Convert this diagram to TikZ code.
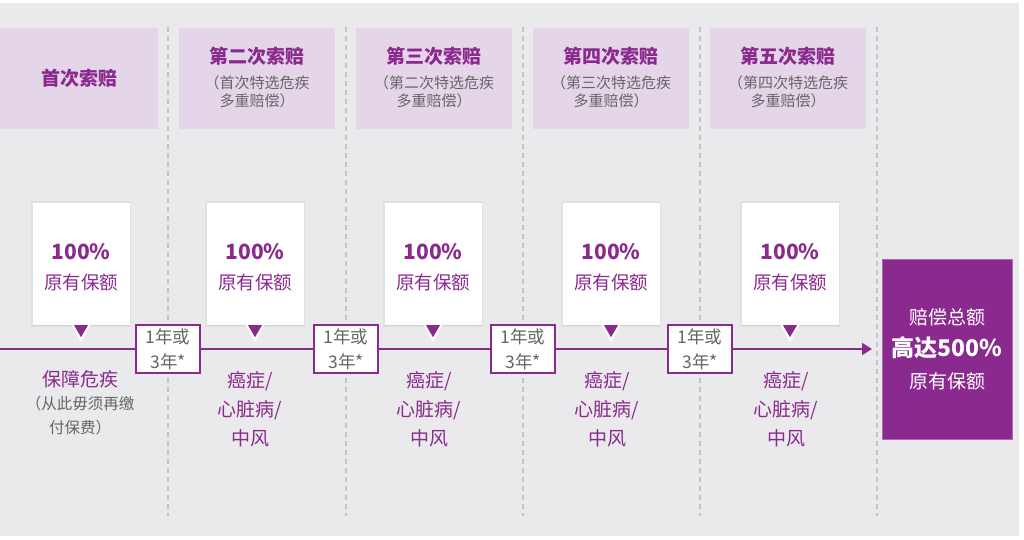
\documentclass[tikz,border=0pt]{standalone}
\usepackage{fontspec}
\setmainfont{Noto Sans CJK SC}
\usepackage{tikz}
\usetikzlibrary{positioning, arrows.meta, shadows, calc}

\definecolor{plum}{HTML}{8B2A8E}
\definecolor{lilac}{HTML}{E5D5E9}
\definecolor{bggray}{HTML}{EAEAED}
\definecolor{txtgray}{HTML}{666666}
\definecolor{dashgray}{HTML}{C4C4C8}

\newcommand{\subfont}{\color{txtgray}\fontsize{15}{18}\selectfont\mdseries}
\newcommand{\notefont}{\color{txtgray}\fontsize{15.5}{24}\selectfont}
\newcommand{\pctfont}{\bfseries\fontsize{21}{30}\selectfont}
\newcommand{\bodyfont}{\mdseries\fontsize{18.5}{30}\selectfont}

\begin{document}
\begin{tikzpicture}[x=1pt, y=-1pt,
                header/.style={fill=lilac, minimum width=156pt, minimum height=101pt, inner sep=0pt, align=center, text=plum, font=\fontsize{19}{26}\selectfont\bfseries},
                callout/.style={fill=white, minimum width=97pt, minimum height=122pt, inner sep=0pt,
                    general shadow={fill=black, opacity=0.035, shadow scale=1.04},
                    drop shadow={shadow xshift=0.5pt, shadow yshift=-1pt, opacity=0.12, fill=black!60}},
                calltext/.style={align=center, text=plum, inner sep=0pt, font=\fontsize{18.5}{30}\selectfont},
                pointer/.style={fill=plum},
                gapbox/.style={draw=plum, line width=1.6pt, fill=white, minimum width=64pt, minimum height=48pt, inner sep=0pt, align=center, text=txtgray, font=\fontsize{17.5}{25}\selectfont},
                below/.style={anchor=north, align=center, text=plum, font=\fontsize{19}{29}\selectfont},
                divider/.style={dashgray, line width=1.2pt, dash pattern=on 5pt off 4pt},
                timeline/.style={plum, line width=1.8pt, -{Triangle[length=10pt, width=12pt]}},
                total/.style={fill=plum, draw=plum!70!white, minimum width=130pt, minimum height=180pt, inner sep=0pt, align=center, text=white, font=\fontsize{19}{32}\selectfont}
            ]

            % Hintergrund
            \useasboundingbox (0,0) rectangle (1024,539);
            \fill[white] (0,0) rectangle (1024,539);
            \fill[bggray] (0,3) rectangle (1019,536);

            % Trennlinien
            \draw[divider] (168,27) -- (168,516);
            \draw[divider] (346,27) -- (346,516);
            \draw[divider] (523,27) -- (523,516);
            \draw[divider] (700,27) -- (700,516);
            \draw[divider] (877,27) -- (877,516);

            % Kopfzeile
            \node[header, minimum width=158pt] (H1) at (79,78.5) {首次索赔};
            \node[header, text depth=4pt] (H2) at (257,78.5) {第二次索赔\\[-1pt]\subfont （首次特选危疾\\[-8pt]\subfont 多重赔偿）};
            \node[header, text depth=4pt] (H3) at (434,78.5) {第三次索赔\\[-1pt]\subfont （第二次特选危疾\\[-8pt]\subfont 多重赔偿）};
            \node[header, text depth=4pt] (H4) at (611,78.5) {第四次索赔\\[-1pt]\subfont （第三次特选危疾\\[-8pt]\subfont 多重赔偿）};
            \node[header, text depth=4pt] (H5) at (788,78.5) {第五次索赔\\[-1pt]\subfont （第四次特选危疾\\[-8pt]\subfont 多重赔偿）};

            % Zeitachse
            \coordinate (T0) at (0,349);
            \coordinate (T1) at (872,349);
            \draw[timeline] (T0) -- (T1);

            % Auszahlungen
            \node[callout] (C1) at (81,264) {};
            \node[callout] (C2) at (255,264) {};
            \node[callout] (C3) at (433,264) {};
            \node[callout] (C4) at (611,264) {};
            \node[callout] (C5) at (790,264) {};

            \node[calltext] (P1) at ([yshift=-3pt]C1.center) {\pctfont 100\%\\\bodyfont 原有保额};
            \node[calltext] (P2) at ([yshift=-3pt]C2.center) {\pctfont 100\%\\\bodyfont 原有保额};
            \node[calltext] (P3) at ([yshift=-3pt]C3.center) {\pctfont 100\%\\\bodyfont 原有保额};
            \node[calltext] (P4) at ([yshift=-3pt]C4.center) {\pctfont 100\%\\\bodyfont 原有保额};
            \node[calltext] (P5) at ([yshift=-3pt]C5.center) {\pctfont 100\%\\\bodyfont 原有保额};

            \fill[white] ($(C1.south)+(-10,-1)$) -- ($(C1.south)+(10,-1)$) -- ($(C1.south)+(0,17)$) -- cycle;
            \fill[pointer] ($(C1.south)+(-7,0)$) -- ($(C1.south)+(7,0)$) -- ($(C1.south)+(0,12)$) -- cycle;
            \fill[white] ($(C2.south)+(-10,-1)$) -- ($(C2.south)+(10,-1)$) -- ($(C2.south)+(0,17)$) -- cycle;
            \fill[pointer] ($(C2.south)+(-7,0)$) -- ($(C2.south)+(7,0)$) -- ($(C2.south)+(0,12)$) -- cycle;
            \fill[white] ($(C3.south)+(-10,-1)$) -- ($(C3.south)+(10,-1)$) -- ($(C3.south)+(0,17)$) -- cycle;
            \fill[pointer] ($(C3.south)+(-7,0)$) -- ($(C3.south)+(7,0)$) -- ($(C3.south)+(0,12)$) -- cycle;
            \fill[white] ($(C4.south)+(-10,-1)$) -- ($(C4.south)+(10,-1)$) -- ($(C4.south)+(0,17)$) -- cycle;
            \fill[pointer] ($(C4.south)+(-7,0)$) -- ($(C4.south)+(7,0)$) -- ($(C4.south)+(0,12)$) -- cycle;
            \fill[white] ($(C5.south)+(-10,-1)$) -- ($(C5.south)+(10,-1)$) -- ($(C5.south)+(0,17)$) -- cycle;
            \fill[pointer] ($(C5.south)+(-7,0)$) -- ($(C5.south)+(7,0)$) -- ($(C5.south)+(0,12)$) -- cycle;

            % Wartezeiten
            \node[gapbox] (G1) at (168,349) {1年或\\3年*};
            \node[gapbox] (G2) at (346,349) {1年或\\3年*};
            \node[gapbox] (G3) at (523,349) {1年或\\3年*};
            \node[gapbox] (G4) at (700,349) {1年或\\3年*};

            % Krankheiten
            \node[below] (L1) at (80,367) {保障危疾\\[-6pt]\notefont （从此毋须再缴\\[-5pt]\notefont 付保费）};
            \node[below] (L2) at (250,368) {癌症/\\心脏病/\\中风};
            \node[below] (L3) at (429,368) {癌症/\\心脏病/\\中风};
            \node[below] (L4) at (607,368) {癌症/\\心脏病/\\中风};
            \node[below] (L5) at (786,368) {癌症/\\心脏病/\\中风};

            % Gesamtsumme
            \node[total] (S) at (947,349) {赔偿总额\\\bfseries\fontsize{23}{32}\selectfont 高达500\%\\\mdseries\fontsize{19}{32}\selectfont 原有保额};

        \end{tikzpicture}
\end{document}
